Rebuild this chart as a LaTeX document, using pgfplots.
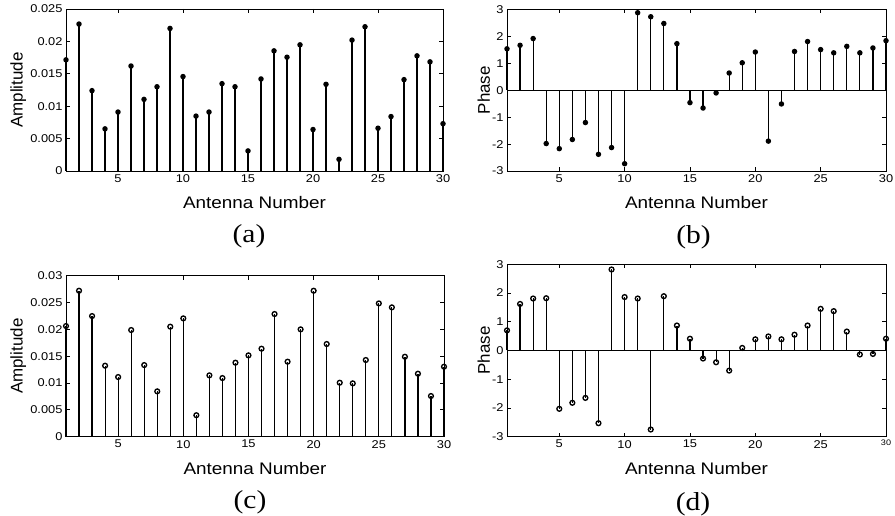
\documentclass[border=0pt]{standalone}
\usepackage{fontspec}
\setmainfont{Liberation Sans}
\newfontfamily\tickfont{Liberation Sans}[FakeStretch=1.14]
\newfontfamily\labfont{Liberation Sans}[FakeStretch=1.13]
\newfontfamily\ylabfont{Liberation Sans}
\newfontfamily\capfont{Liberation Serif}[FakeStretch=1.14]
\usepackage{pgfplots}
\pgfplotsset{compat=1.18}

\pgfplotsset{
  panel/.style={
    scale only axis,
    xmin=1, xmax=30,
    xtick={5,10,15,20,25,30},
    tick align=inside,
    major tick length=4bp,
    axis line style={line width=0.9bp},
    every tick/.style={black, line width=0.8bp},
    clip=false,
    scaled ticks=false,
    /pgf/number format/assume math mode=true,
    tick label style={font=\tickfont\fontsize{11.3}{12}\selectfont},
    xlabel={Antenna Number},
    xlabel style={at={(axis description cs:0.5,0)}, anchor=base, yshift=-38bp,
      font=\labfont\fontsize{16.8}{18}\selectfont},
    ylabel style={anchor=center, font=\ylabfont\fontsize{17}{18}\selectfont},
  },
  stemdot/.style={ycomb, black, line width=1.2bp, mark=*, mark size=2.1bp},
  stemring/.style={ycomb, black, line width=1.2bp, mark=o,
    mark size=2.4bp, mark options={fill=white, line width=1.35bp}},
  base/.style={black, line width=0.9bp, mark=none},
}

\begin{document}
\begin{tikzpicture}
\useasboundingbox (0,0) rectangle (895bp,516bp);

% (a) amplitude
\begin{axis}[panel,
  at={(66bp,345bp)}, anchor=south west, width=377bp, height=162bp,
  ymin=0, ymax=0.025,
  ytick={0,0.005,0.01,0.015,0.02,0.025},
  yticklabels={0,0.005,0.01,0.015,0.02,0.025},
  ylabel={Amplitude},
  ylabel style={at={(axis description cs:-0.1265,0.5)}},
]
\addplot[stemdot] table {%
1 0.01715
2 0.02268
3 0.0124
4 0.0065
5 0.0091
6 0.0162
7 0.01105
8 0.0130
9 0.0220
10 0.01457
11 0.00847
12 0.0091
13 0.01348
14 0.0130
15 0.0031
16 0.0142
17 0.01854
18 0.01756
19 0.01947
20 0.0064
21 0.01338
22 0.0018
23 0.0202
24 0.02226
25 0.0066
26 0.0084
27 0.0141
28 0.01777
29 0.01684
30 0.0073
};
\end{axis}

% (b) phase
\begin{axis}[panel,
  at={(507bp,345bp)}, anchor=south west, width=379bp, height=161.5bp,
  ymin=-3, ymax=3,
  ytick={-3,-2,-1,0,1,2,3},
  yticklabels={-3,-2,-1,0,1,2,3},
  ylabel={Phase},
  ylabel style={at={(axis description cs:-0.0615,0.5)}},
]
\addplot[base] coordinates {(1,0) (30,0)};
\addplot[stemdot] table {%
1 1.54
2 1.67
3 1.92
4 -1.98
5 -2.17
6 -1.83
7 -1.20
8 -2.38
9 -2.13
10 -2.73
11 2.88
12 2.73
13 2.48
14 1.73
15 -0.46
16 -0.66
17 -0.10
18 0.64
19 1.02
20 1.42
21 -1.89
22 -0.51
23 1.44
24 1.81
25 1.51
26 1.39
27 1.63
28 1.39
29 1.57
30 1.84
};
\end{axis}

% (c) amplitude
\begin{axis}[panel,
  at={(66bp,79.3bp)}, anchor=south west, width=378bp, height=161bp,
  ymin=0, ymax=0.03,
  ytick={0,0.005,0.01,0.015,0.02,0.025,0.03},
  yticklabels={0,0.005,0.01,0.015,0.02,0.025,0.03},
  ylabel={Amplitude},
  ylabel style={at={(axis description cs:-0.126,0.5)}},
]
\addplot[stemring] table {%
1 0.02062
2 0.0272
3 0.02248
4 0.01323
5 0.01112
6 0.01988
7 0.01335
8 0.00845
9 0.0205
10 0.02205
11 0.0040
12 0.01143
13 0.01093
14 0.01379
15 0.01516
16 0.0164
17 0.02286
18 0.01398
19 0.0200
20 0.0272
21 0.01727
22 0.01006
23 0.00994
24 0.01429
25 0.02484
26 0.0241
27 0.0149
28 0.01174
29 0.00758
30 0.01304
};
\end{axis}

% (d) phase
\begin{axis}[panel,
  at={(507bp,79.3bp)}, anchor=south west, width=379bp, height=172.4bp,
  ymin=-3, ymax=3,
  ytick={-3,-2,-1,0,1,2,3},
  yticklabels={-3,-2,-1,0,1,2,3},
  xticklabels={5,10,15,20,25,{\fontsize{8}{8}\selectfont 30}},
  ylabel={Phase},
  ylabel style={at={(axis description cs:-0.0615,0.5)}},
]
\addplot[base] coordinates {(1,0) (30,0)};
\addplot[stemring] table {%
1 0.70
2 1.62
3 1.81
4 1.82
5 -2.03
6 -1.82
7 -1.65
8 -2.53
9 2.82
10 1.86
11 1.81
12 -2.75
13 1.89
14 0.87
15 0.41
16 -0.28
17 -0.41
18 -0.70
19 0.09
20 0.39
21 0.49
22 0.39
23 0.55
24 0.87
25 1.45
26 1.37
27 0.66
28 -0.14
29 -0.12
30 0.41
};
\end{axis}

\node[anchor=base, inner sep=0] at (249bp,273bp) {\capfont\fontsize{26}{26}\selectfont (a)};
\node[anchor=base, inner sep=0] at (693.5bp,272bp) {\capfont\fontsize{26}{26}\selectfont (b)};
\node[anchor=base, inner sep=0] at (250bp,7.3bp) {\capfont\fontsize{26}{26}\selectfont (c)};
\node[anchor=base, inner sep=0] at (693bp,6bp) {\capfont\fontsize{26}{26}\selectfont (d)};
\end{tikzpicture}
\end{document}
